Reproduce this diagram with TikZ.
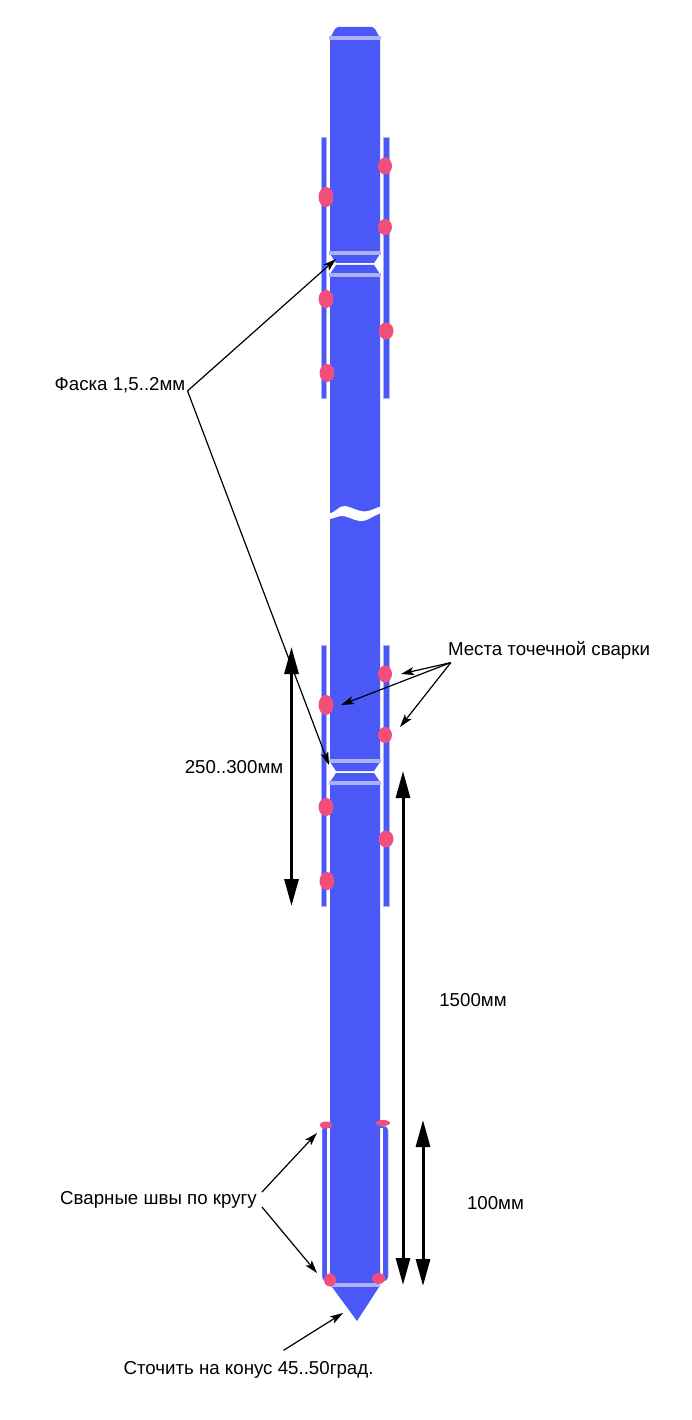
\documentclass[tikz,border=0pt]{standalone}
\usepackage{fontspec}
\setmainfont{Liberation Sans}
\usetikzlibrary{shapes.geometric,arrows.meta,positioning,calc}
\definecolor{rodblue}{HTML}{4B58F8}
\definecolor{edgeblue}{HTML}{ADB2F6}
\definecolor{weldpink}{HTML}{F24E7C}

\begin{document}
\begin{tikzpicture}[x=1pt,y=-1pt]
    % Стили
    \tikzset{
        rod/.style={fill=rodblue, draw=none},
        strip/.style={fill=rodblue, draw=edgeblue, line width=0.5pt},
        seam/.style={edgeblue, line width=3.5pt},
        gapline/.style={white, line width=2.2pt},
        weld/.style={ellipse, fill=weldpink, inner sep=0pt},
        label/.style={inner sep=2pt, font=\fontsize{18.7}{22}\selectfont},
        thinarrow/.style={-{Stealth[length=13pt,width=8pt,inset=3pt]}, line width=1.2pt},
        dimarrow/.style={{Triangle[length=27pt,width=14pt]}-{Triangle[length=27pt,width=14pt]}, line width=3pt}
    }
    \useasboundingbox (0,0) rectangle (691,1420);

    % Накладки
    \draw[strip] (321,137) rectangle (326.5,398);
    \draw[strip] (383.5,137) rectangle (389.5,398);
    \draw[strip] (321,645) rectangle (326.5,906);
    \draw[strip] (383.5,645) rectangle (389.5,906);

    % Гильза снизу
    \draw[strip, rounded corners=4pt] (322,1126) -- (322,1281) -- (388,1281) -- (388,1126) -- cycle;
    \draw[gapline] (328.5,1128) -- (328.5,1276);
    \draw[gapline] (381.5,1128) -- (381.5,1276);

    % Труба
    \fill[rod] (338,27) -- (335,29) -- (330,38) -- (330,254) -- (336,263) -- (374,263) -- (380,254) -- (380,38) -- (375,29) -- (372,27) -- cycle;
    \fill[rod] (336,265) -- (330,274) -- (330,762) -- (336,771) -- (374,771) -- (380,762) -- (380,274) -- (374,265) -- cycle;
    \fill[rod] (336,773) -- (330,782) -- (330,1285) -- (332,1287) -- (357,1321) -- (379,1287) -- (380,1285) -- (380,782) -- (374,773) -- cycle;

    % Разрыв
    \fill[white] (328,513) .. controls (336,514) and (338,505) .. (345,506)
        .. controls (352,507) and (360,513) .. (368,511)
        .. controls (373,510) and (377,507) .. (383,506)
        -- (383,513) .. controls (374,514) and (368,522) .. (360,521)
        .. controls (352,520) and (346,515) .. (340,516)
        .. controls (336,517) and (333,519) .. (328,519) -- cycle;

    % Фаски
    \draw[seam] (329,38) -- (381,38);
    \draw[seam] (329,253) -- (381,253);
    \draw[seam] (329,275) -- (381,275);
    \draw[seam] (329,761) -- (381,761);
    \draw[seam] (329,783) -- (381,783);
    \draw[seam] (332,1285) -- (380,1285);

    % Точки сварки
    \node[weld, minimum width=15pt, minimum height=20pt] (weldA) at (326,197) {};
    \node[weld, minimum width=15pt, minimum height=18pt] (weldB) at (326,299) {};
    \node[weld, minimum width=15pt, minimum height=18pt] (weldC) at (327,373) {};
    \node[weld, minimum width=14pt, minimum height=17pt] (weldD) at (385,166) {};
    \node[weld, minimum width=14pt, minimum height=16pt] (weldE) at (385,227) {};
    \node[weld, minimum width=15pt, minimum height=17pt] (weldF) at (386,331) {};
    \node[weld, minimum width=15pt, minimum height=20pt] (weldG) at (326,705) {};
    \node[weld, minimum width=15pt, minimum height=18pt] (weldH) at (326,807) {};
    \node[weld, minimum width=15pt, minimum height=18pt] (weldI) at (327,881) {};
    \node[weld, minimum width=14pt, minimum height=17pt] (weldJ) at (385,674) {};
    \node[weld, minimum width=14pt, minimum height=16pt] (weldK) at (385,735) {};
    \node[weld, minimum width=15pt, minimum height=17pt] (weldL) at (386,839) {};

    % Сварные швы
    \node[weld, minimum width=13pt, minimum height=7pt] (seamA) at (326,1125) {};
    \node[weld, minimum width=14pt, minimum height=6pt] (seamB) at (383,1123) {};
    \node[weld, minimum width=12pt, minimum height=13pt] (seamC) at (330,1280) {};
    \node[weld, minimum width=13pt, minimum height=11pt] (seamD) at (378.5,1278.5) {};

    % Надписи
    \node[label] (faska) at (120,385) {Фаска 1,5..2мм};
    \node[label] (mesta) at (549,650) {Места точечной сварки};
    \node[label] (dimA) at (234,767) {250..300мм};
    \node[label] (dimB) at (473,1000) {1500мм};
    \node[label] (dimC) at (495.5,1203) {100мм};
    \node[label] (shvy) at (158.5,1199.5) {Сварные швы по кругу};
    \node[label] (konus) at (248.5,1369.5) {Сточить на конус 45..50град.};

    % Концы стрелок
    \coordinate (faskaTop) at (336,259);
    \coordinate (faskaLow) at (329,765);
    \coordinate (pointJ) at (401,674);
    \coordinate (pointG) at (341,705);
    \coordinate (pointK) at (400,727);
    \coordinate (shvyTop) at (317,1133);
    \coordinate (shvyLow) at (317,1273);
    \coordinate (konusTip) at (343,1313);
    \coordinate (dimAtop) at (291.5,647);
    \coordinate (dimAlow) at (291.5,906);
    \coordinate (dimBtop) at (403,771);
    \coordinate (dimBlow) at (403,1285);
    \coordinate (dimCtop) at (423,1120);
    \coordinate (dimClow) at (423,1286);

    % Стрелки
    \draw[thinarrow] ([yshift=4pt]faska.south east) -- (faskaTop);
    \draw[thinarrow] ([yshift=4pt]faska.south east) -- (faskaLow);
    \draw[thinarrow] ([xshift=5pt,yshift=-1.5pt]mesta.south west) -- (pointJ);
    \draw[thinarrow] ([xshift=5pt,yshift=-1.5pt]mesta.south west) -- (pointG);
    \draw[thinarrow] ([xshift=5pt,yshift=-1.5pt]mesta.south west) -- (pointK);
    \draw[thinarrow] ([xshift=3pt,yshift=7.5pt]shvy.east) -- (shvyTop);
    \draw[thinarrow] ([xshift=3pt,yshift=-7.5pt]shvy.east) -- (shvyLow);
    \draw[thinarrow] ([xshift=35pt,yshift=8.5pt]konus.north) -- (konusTip);

    % Размеры
    \draw[dimarrow] (dimAtop) -- (dimAlow);
    \draw[dimarrow] (dimBtop) -- (dimBlow);
    \draw[dimarrow] (dimCtop) -- (dimClow);
\end{tikzpicture}
\end{document}
